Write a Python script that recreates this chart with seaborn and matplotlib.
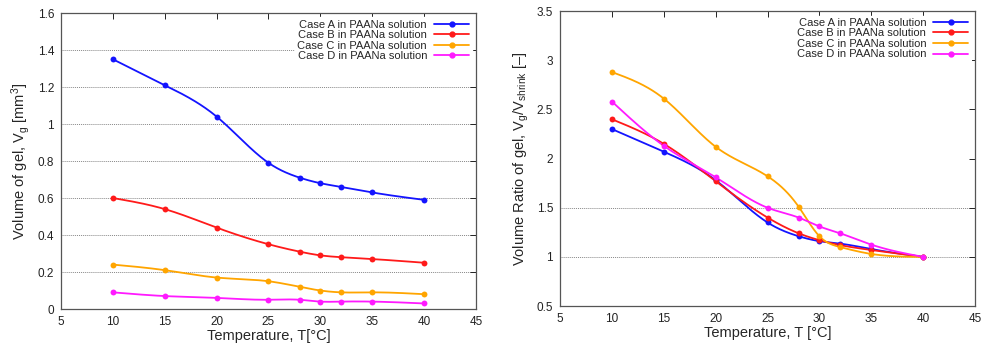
import numpy as np
import pandas as pd
import matplotlib
matplotlib.use("Agg")
import matplotlib.pyplot as plt
import seaborn as sns
from matplotlib.lines import Line2D

temps = [10, 15, 20, 25, 28, 30, 32, 35, 40]
series_names = ["Case A in PAANa solution", "Case B in PAANa solution",
                "Case C in PAANa solution", "Case D in PAANa solution"]

vol_a = [1.35, 1.21, 1.04, 0.79, 0.71, 0.68, 0.66, 0.63, 0.59]
vol_b = [0.60, 0.54, 0.44, 0.35, 0.31, 0.29, 0.28, 0.27, 0.25]
vol_c = [0.24, 0.21, 0.17, 0.15, 0.12, 0.10, 0.09, 0.09, 0.08]
vol_d = [0.09, 0.07, 0.06, 0.05, 0.05, 0.04, 0.04, 0.04, 0.03]

ratio_a = [2.30, 2.07, 1.78, 1.35, 1.21, 1.16, 1.135, 1.08, 1.00]
ratio_b = [2.40, 2.15, 1.77, 1.40, 1.24, 1.17, 1.12, 1.07, 1.00]
ratio_c = [2.88, 2.61, 2.12, 1.82, 1.51, 1.21, 1.10, 1.03, 1.00]
ratio_d = [2.58, 2.13, 1.81, 1.50, 1.40, 1.31, 1.24, 1.125, 1.00]

x_ticks = [5, 10, 15, 20, 25, 30, 35, 40, 45]
left_yticks = [0, 0.2, 0.4, 0.6, 0.8, 1.0, 1.2, 1.4, 1.6]
right_yticks = [0.5, 1.0, 1.5, 2.0, 2.5, 3.0, 3.5]
left_grid = [0.2, 0.4, 0.6, 0.8, 1.0, 1.2, 1.4]
right_grid = [1.0, 1.5]

colors = ["#1414ff", "#ff1a1a", "#ffa500", "#ff1aff"]

sns.set_theme(style="white")
plt.rcParams['font.family'] = ['Liberation Sans', 'DejaVu Sans']
plt.rcParams['mathtext.fontset'] = 'custom'
plt.rcParams['mathtext.rm'] = 'Liberation Sans'
plt.rcParams['mathtext.it'] = 'Liberation Sans'


def natural_spline(x, y, n=300):
    x = np.asarray(x, float)
    y = np.asarray(y, float)
    k = len(x)
    h = np.diff(x)
    A = np.zeros((k, k))
    r = np.zeros(k)
    A[0, 0] = 1
    A[-1, -1] = 1
    for i in range(1, k - 1):
        A[i, i - 1] = h[i - 1]
        A[i, i] = 2 * (h[i - 1] + h[i])
        A[i, i + 1] = h[i]
        r[i] = 6 * ((y[i + 1] - y[i]) / h[i] - (y[i] - y[i - 1]) / h[i - 1])
    M = np.linalg.solve(A, r)
    xs = np.linspace(x[0], x[-1], n)
    idx = np.clip(np.searchsorted(x, xs) - 1, 0, k - 2)
    x0, x1 = x[idx], x[idx + 1]
    hh = x1 - x0
    a = (x1 - xs) / hh
    b = (xs - x0) / hh
    ys = (a * y[idx] + b * y[idx + 1]
          + ((a ** 3 - a) * M[idx] + (b ** 3 - b) * M[idx + 1]) * hh ** 2 / 6)
    return xs, ys


def build(ax, data, yticks, ylim, grid, ylabel, xlabel):
    for yv in grid:
        ax.axhline(yv, color="#888888", lw=0.7, ls=(0, (1, 1)), zorder=0)
    handles = []
    for vals, name, c in zip(data, series_names, colors):
        xs, ys = natural_spline(temps, vals)
        sns.lineplot(x=xs, y=ys, ax=ax, color=c, lw=1.3, zorder=3)
        sns.scatterplot(x=temps, y=vals, ax=ax, color=c, s=18, edgecolor=c,
                        linewidth=0, zorder=4)
        handles.append(Line2D([0], [0], color=c, lw=1.3, marker='o', ms=3.5))
    ax.set_xlim(5, 45)
    ax.set_ylim(*ylim)
    ax.set_xticks(x_ticks)
    ax.set_xticklabels([str(t) for t in x_ticks])
    ax.set_yticks(yticks)
    ax.set_yticklabels([f"{t:g}" for t in yticks])
    ax.tick_params(direction="in", length=4, width=0.7, top=True, right=True,
                   labelsize=8.5, colors="#222222", pad=5)
    for s in ax.spines.values():
        s.set_color("#555555")
        s.set_linewidth(0.9)
    ax.set_xlabel(xlabel, fontsize=10.5, labelpad=1)
    ax.set_ylabel(ylabel, fontsize=10.5, labelpad=4)
    leg = ax.legend(handles, series_names, loc="upper right", markerfirst=False,
                    frameon=True, fontsize=8, handlelength=3.2, handletextpad=0.6,
                    labelspacing=0.05, borderaxespad=0.4, borderpad=0.2)
    leg.get_frame().set_edgecolor("white")
    leg.get_frame().set_facecolor("white")
    leg.get_frame().set_alpha(1.0)
    for t in leg.get_texts():
        t.set_ha("right")
    leg.set_zorder(5)


fig = plt.figure(figsize=(9.81, 3.47), dpi=100)
ax1 = fig.add_axes([0.0622, 0.1095, 0.423, 0.853])
ax2 = fig.add_axes([0.5709, 0.118, 0.423, 0.850])

build(ax1, [vol_a, vol_b, vol_c, vol_d], left_yticks, (0, 1.6), left_grid,
      r"Volume of gel, V$_g$ [mm$^3$]", "Temperature, T[°C]")
build(ax2, [ratio_a, ratio_b, ratio_c, ratio_d], right_yticks, (0.5, 3.5), right_grid,
      r"Volume Ratio of gel, V$_g$/V$_{shrink}$ [–]", "Temperature, T [°C]")

fig.savefig("out.png", dpi=100, facecolor="white")
